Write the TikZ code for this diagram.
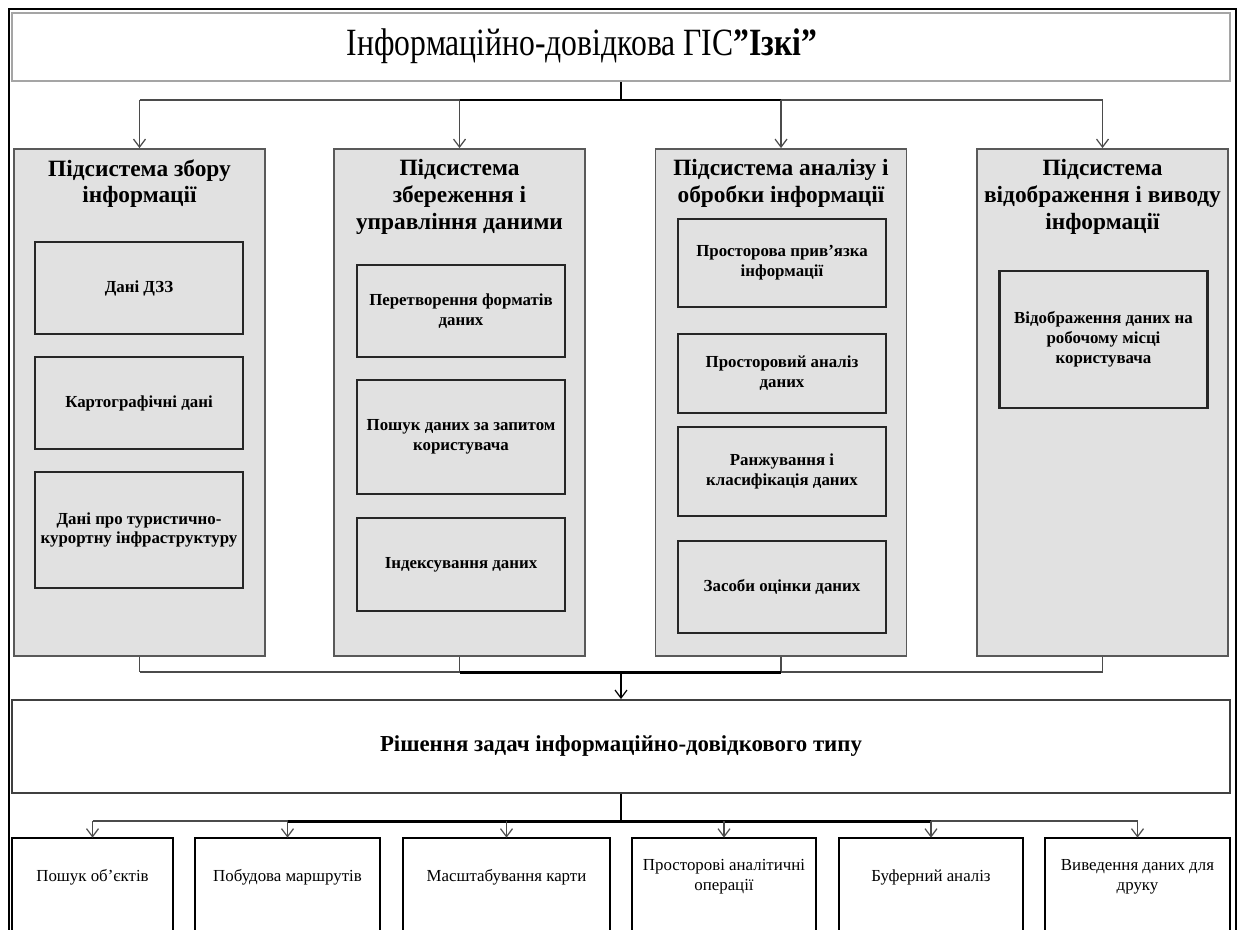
\documentclass[tikz,border=0pt]{standalone}
\usepackage{fontspec}
\setmainfont{Liberation Serif}
\usepackage{tikz}
\usetikzlibrary{arrows.meta}
\usetikzlibrary{positioning}
\definecolor{boxgray}{RGB}{225,225,225}
\definecolor{framegray}{RGB}{165,165,165}
\definecolor{linkgray}{RGB}{75,75,75}
\newcommand{\dq}{\char34}
\tikzset{
  title_box/.style = {draw=framegray, line width=1.5pt, minimum width=24.36cm,
    minimum height=1.36cm, inner sep=0pt},
  sub_box/.style = {draw=black!65, line width=1.1pt, fill=boxgray,
    minimum width=5.02cm, minimum height=10.14cm, inner sep=0pt},% pidsystema
  sub_head/.style = {anchor=north, align=center, inner sep=0pt,
    font=\fontsize{13.3}{15.3}\selectfont\bfseries},
  fn_box/.style = {draw=black!85, line width=1.3pt, fill=boxgray,
    minimum width=4.16cm, align=center, inner sep=0pt,
    font=\fontsize{9.6}{11.3}\selectfont\bfseries},% funktsiya
  task_box/.style = {draw=black!75, line width=1.1pt, minimum width=24.36cm,
    minimum height=1.86cm, inner sep=0pt,
    font=\fontsize{13}{15}\selectfont\bfseries},
  op_box/.style = {minimum height=1.56cm, align=center, inner sep=0pt,
    font=\fontsize{9.6}{11.3}\selectfont},% operatsiya, bez ramky
  op_line/.style = {draw=black, line width=1.1pt},
  link/.style = {draw=linkgray, line width=0.7pt},
  stem/.style = {draw=black, line width=1.7pt},
  tip/.style = {-{Straight Barb[length=1.6mm,width=2.4mm,line width=0.7pt]}}
}

\begin{document}
\begin{tikzpicture}[x=0.02cm, y=-0.02cm]
\useasboundingbox (0,0) rectangle (1238,930);

% ramka
\draw[black, line width=1.2pt] (9,940) -- (9,9) -- (1236,9) -- (1236,940);

\node[title_box] (gis) at (621,47) {};
\node[font=\fontsize{18}{20}\selectfont] (gist) at (582,46)
  {\scalebox{1}[1.22]{Інформаційно-довідкова ГІС\textbf{\dq Ізкі\dq}}};

% pidsystemy
\node[sub_box] (c1) at (139.5,402.5) {};
\node[sub_box] (c2) at (459.5,402.5) {};
\node[sub_box] (c3) at (781,402.5) {};
\node[sub_box] (c4) at (1102.5,402.5) {};

\node[sub_head] (h1) at (139.5,159) {Підсистема збору\\інформації};
\node[sub_head] (h2) at (459.5,159) {Підсистема\\збереження і\\управління даними};
\node[sub_head] (h3) at (781,159) {Підсистема аналізу і\\обробки інформації};
\node[sub_head] (h4) at (1102.5,159) {Підсистема\\відображення і виводу\\інформації};

\node[fn_box, minimum height=1.84cm] (f11) at (139,288) {Дані ДЗЗ};
\node[fn_box, minimum height=1.84cm] (f12) at (139,403) {Картографічні дані};
\node[fn_box, minimum height=2.32cm] (f13) at (139,530)
  {Дані про туристично-\\курортну інфраструктуру};

\node[fn_box, minimum height=1.84cm] (f21) at (461,311) {Перетворення форматів\\даних};
\node[fn_box, minimum height=2.28cm] (f22) at (461,437) {Пошук даних за запитом\\користувача};
\node[fn_box, minimum height=1.86cm] (f23) at (461,564.5) {Індексування даних};

\node[fn_box, minimum height=1.76cm] (f31) at (782,263) {Просторова прив’язка\\інформації};
\node[fn_box, minimum height=1.58cm] (f32) at (782,373.5) {Просторовий аналіз\\даних};
\node[fn_box, minimum height=1.78cm] (f33) at (782,471.5) {Ранжування і\\класифікація даних};
\node[fn_box, minimum height=1.84cm] (f34) at (782,587) {Засоби оцінки даних};

\node[fn_box, minimum height=2.74cm] (f41) at (1103.5,339.5)
  {Відображення даних на\\робочому місці\\користувача};

\node[task_box] (task) at (621,746.5) {Рішення задач інформаційно-довідкового типу};

% operatsii
\node[op_box, minimum width=3.22cm] (op1) at (92.5,877) {Пошук об’єктів};
\node[op_box, minimum width=3.70cm] (op2) at (287.5,877) {Побудова маршрутів};
\node[op_box, minimum width=4.14cm] (op3) at (506.5,877) {Масштабування карти};
\node[op_box, minimum width=3.68cm] (op4) at (724,877) {Просторові аналітичні\\операції};
\node[op_box, minimum width=3.68cm] (op5) at (931,877) {Буферний аналіз};
\node[op_box, minimum width=3.70cm] (op6) at (1137.5,877) {Виведення даних для\\друку};
\foreach \o in {op1,op2,op3,op4,op5,op6}
  \draw[op_line] ([yshift=-0.4cm]\o.south west) |- (\o.north east) -- ([yshift=-0.4cm]\o.south east);

% zv'yazky
\coordinate (topbus) at (621,100);
\coordinate (midbus) at (621,672);
\coordinate (lowbus) at (621,821);

\draw[link] (c1.north |- topbus) -- (c4.north |- topbus);
\draw[stem] (c2.north |- topbus) -- (c3.north |- topbus);
\draw[stem] (gis.south) -- (topbus);
\foreach \c in {c1,c2,c3,c4}
  \draw[link,tip] (\c.north |- topbus) -- (\c.north);

\foreach \c in {c1,c2,c3,c4}
  \draw[link] (\c.south) -- (\c.south |- midbus);
\draw[link] (c1.south |- midbus) -- (c4.south |- midbus);
\draw[stem] (c2.south |- midbus) -- (c3.south |- midbus);
\draw[stem,tip] (midbus) -- (task.north);

\draw[stem] (task.south) -- (lowbus);
\draw[link] (op1.north |- lowbus) -- (op6.north |- lowbus);
\draw[stem] (op2.north |- lowbus) -- (op5.north |- lowbus);
\foreach \o in {op1,op2,op3,op4,op5,op6}
  \draw[link,tip] (\o.north |- lowbus) -- (\o.north);
\end{tikzpicture}
\end{document}
